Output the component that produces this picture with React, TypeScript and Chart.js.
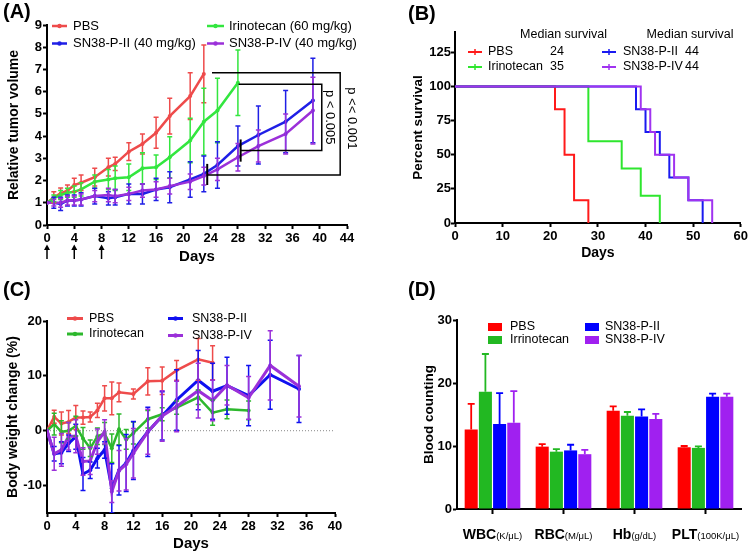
import React, { useEffect, useRef } from "react";
import { Chart, registerables } from "chart.js";

Chart.register(...registerables);

const FONT = '"Liberation Sans", Arial, Helvetica, sans-serif';

// ---------------- Panel A : relative tumor volume ----------------
const namesA = ["PBS", "Irinotecan (60 mg/kg)", "SN38-P-II (40 mg/kg)", "SN38-P-IV (40 mg/kg)"];
const daysA = [0, 1, 2, 3, 4, 5, 7, 9, 10, 12, 14, 16, 18, 21, 23, 25, 28, 31, 35, 39];
const pbsA = [1.0, 1.25, 1.42, 1.55, 1.8, 1.9, 2.15, 2.6, 2.75, 3.3, 3.65, 4.15, 4.9, 5.8, 6.8];
const pbsAErr = [0, 0.25, 0.25, 0.25, 0.3, 0.35, 0.4, 0.4, 0.3, 0.4, 0.45, 0.7, 0.8, 1.05, 1.3];
const iriA = [1.0, 1.2, 1.35, 1.45, 1.5, 1.6, 1.95, 2.05, 2.1, 2.15, 2.55, 2.6, 3.05, 3.8, 4.65, 5.15, 6.4];
const iriAErr = [0, 0.15, 0.2, 0.2, 0.25, 0.3, 0.3, 0.45, 0.55, 0.6, 0.7, 0.55, 0.92, 1.0, 1.5, 1.45, 1.47];
const p2A = [1.0, 1.0, 0.95, 1.1, 1.1, 1.15, 1.3, 1.2, 1.25, 1.4, 1.4, 1.6, 1.7, 2.05, 2.3, 2.7, 3.55, 4.05, 4.65, 5.6];
const p2AErr = [0, 0.25, 0.3, 0.25, 0.25, 0.3, 0.35, 0.3, 0.35, 0.45, 0.45, 0.5, 0.7, 0.8, 0.8, 1.05, 0.9, 1.3, 1.4, 1.9];
const p4A = [1.0, 1.0, 1.0, 1.1, 1.1, 1.15, 1.3, 1.35, 1.3, 1.4, 1.55, 1.6, 1.75, 1.95, 2.2, 2.5, 3.05, 3.55, 4.1, 5.15];
const p4AErr = [0, 0.15, 0.2, 0.2, 0.2, 0.25, 0.25, 0.3, 0.3, 0.3, 0.3, 0.35, 0.35, 0.35, 0.4, 0.5, 0.62, 0.72, 0.9, 1.5];
const xTicksA = [0, 4, 8, 12, 16, 20, 24, 28, 32, 36, 40, 44];
const yTicksA = [0, 1, 2, 3, 4, 5, 6, 7, 8, 9];
const doseDaysA = [0, 4, 8];
const bracketsA = [
  { from: 24.2, fromLow: 23.5, to: 43.0, high: 6.85, low: 2.25, tickLo: 1.8, tickHi: 2.75, text: "p << 0.001", textAt: 4.8 },
  { from: 28.1, fromLow: 28.4, to: 40.3, high: 6.33, low: 3.35, tickLo: 2.85, tickHi: 3.85, text: "p < 0.005", textAt: 4.85 },
];

// ---------------- Panel B : survival ----------------
const namesB = ["PBS", "Irinotecan", "SN38-P-II", "SN38-P-IV"];
const medianB = [24, 35, 44, 44];
const pbsSurvDays = [0, 21, 23, 25, 28];
const pbsSurv = [100, 83.3, 50, 16.7, 0];
const iriSurvDays = [0, 28, 35, 39, 43];
const iriSurv = [100, 60, 40, 20, 0];
const p2SurvDays = [0, 38, 40, 43, 45, 49, 52];
const p2Surv = [100, 83.3, 66.7, 50, 33.3, 16.7, 0];
const p4SurvDays = [0, 39, 41, 42, 46, 49, 54];
const p4Surv = [100, 83.3, 66.7, 50, 33.3, 16.7, 0];
const xTicksB = [0, 10, 20, 30, 40, 50, 60];
const yTicksB = [0, 25, 50, 75, 100, 125];

// ---------------- Panel C : body weight change ----------------
const namesC = ["PBS", "Irinotecan", "SN38-P-II", "SN38-P-IV"];
const pbsDaysC = [0, 1, 2, 3, 4, 5, 6, 7, 8, 9, 10, 12, 14, 16, 18, 21, 23];
const pbsC = [0, 2.55, 1.3, 1.6, 2.4, 2.4, 2.5, 3.7, 5.9, 5.9, 7.0, 6.7, 9.0, 9.1, 11.0, 13.0, 12.4];
const pbsCErr = [0, 1.2, 2.1, 2.1, 2.2, 1.2, 0.9, 1.3, 2.3, 3.0, 1.7, 0.9, 2.5, 2.5, 1.8, 3.8, 3.1];
const iriDaysC = [0, 1, 2, 3, 4, 5, 6, 7, 8, 9, 10, 11, 12, 14, 16, 18, 21, 23, 25, 28];
const iriC = [0, 1.2, -0.2, 0, 0.85, -1.4, -3.2, -1.0, -0.5, -3.2, 0.25, -1.6, -0.4, 2.1, 3.0, 4.2, 6.1, 3.3, 3.9, 3.7];
const iriCErr = [0, 2.0, 2.0, 1.5, 1.8, 2.0, 1.5, 1.5, 2.0, 2.6, 2.8, 1.8, 2.0, 1.6, 1.2, 1.2, 1.3, 2.3, 1.7, 1.7];
const snDaysC = [0, 1, 2, 3, 4, 5, 6, 7, 8, 9, 10, 11, 12, 14, 16, 18, 21, 23, 25, 28, 31, 35];
const p2C = [0, -4.2, -4.0, -2.3, -1.1, -7.9, -7.2, -5.0, -3.5, -10.5, -7.2, -5.9, -3.6, -0.2, 2.7, 5.6, 9.2, 7.2, 8.2, 6.4, 10.2, 7.6];
const p2CErr = [0, 1.3, 2.0, 1.5, 2.3, 3.0, 1.5, 1.8, 1.5, 4.5, 4.5, 5.2, 5.3, 4.5, 4.4, 5.5, 5.4, 5.1, 5.2, 5.5, 6.3, 6.1];
const p4C = [0, -4.2, -3.5, -1.0, -1.0, -5.6, -5.5, -2.0, -0.2, -11.1, -7.3, -6.1, -4.1, -0.2, 2.7, 4.4, 7.3, 5.5, 8.3, 6.0, 11.9, 8.1];
const p4CErr = [0, 3.0, 3.0, 2.5, 3.0, 2.5, 2.5, 2.3, 2.2, 2.0, 3.7, 4.7, 4.5, 4.1, 4.6, 4.6, 5.0, 3.7, 3.6, 3.9, 6.3, 5.6];
const xTicksC = [0, 4, 8, 12, 16, 20, 24, 28, 32, 36, 40];
const yTicksC = [-10, 0, 10, 20];

// ---------------- Panel D : blood counting ----------------
const namesD = ["PBS", "Irrinotecan", "SN38-P-II", "SN38-P-IV"];
const catD = ["WBC", "RBC", "Hb", "PLT"];
const unitD = ["(K/\u03bcL)", "(M/\u03bcL)", "(g/dL)", "(100K/\u03bcL)"];
const pbsD = [12.6, 9.9, 15.6, 9.8];
const pbsDErr = [4.1, 0.4, 0.7, 0.2];
const iriD = [18.6, 9.1, 14.8, 9.7];
const iriDErr = [6.0, 0.4, 0.6, 0.25];
const p2D = [13.5, 9.3, 14.7, 17.8];
const p2DErr = [4.9, 0.9, 1.1, 0.5];
const p4D = [13.7, 8.7, 14.3, 17.8];
const p4DErr = [5.0, 0.7, 0.8, 0.5];
const yTicksD = [0, 10, 20, 30];

// ---------------- helpers ----------------
const colorsA = ["#EE4B4B", "#33E63F", "#1F1FE6", "#9B30D9"];
const colorsB = ["#FF1A1A", "#2EE62E", "#1A1AF0", "#A033F0"];
const colorsC = ["#EE4B4B", "#2DB82D", "#1010F0", "#9B30D9"];
const colorsD = ["#FF0000", "#22B822", "#0000FF", "#A020F0"];

const W = 375;
const H = 277;

const grid = (extra: any = {}) => ({
  display: true,
  drawOnChartArea: false,
  drawTicks: true,
  tickLength: 4,
  tickWidth: 2,
  tickColor: "#000",
  ...extra,
});
const border = { display: true, color: "#000", width: 2 };
const tickFont = (size: number) => ({ family: FONT, size, weight: "bold" as const });
const fixedTicks = (values: number[]) => (scale: any) => {
  scale.ticks = values.map((v) => ({ value: v }));
};
const toXY = (xs: number[], ys: number[]) => ys.map((y, i) => ({ x: xs[i], y }));

const errorBarPlugin = {
  id: "errorBars",
  afterDatasetsDraw(chart: any) {
    const { ctx, chartArea } = chart;
    chart.data.datasets.forEach((ds: any, i: number) => {
      if (!ds.errors) return;
      const meta = chart.getDatasetMeta(i);
      const yScale = chart.scales[meta.yAxisID];
      ctx.save();
      ctx.beginPath();
      ctx.rect(chartArea.left - 10, 0, chartArea.right - chartArea.left + 20, chartArea.bottom);
      ctx.clip();
      ctx.strokeStyle = ds.errorColor || ds.borderColor;
      ctx.lineWidth = ds.errorWidth || 1.5;
      const cap = ds.errorCap || 2.5;
      meta.data.forEach((el: any, j: number) => {
        const e = ds.errors[j];
        if (!e) return;
        const raw = ds.data[j];
        const v = typeof raw === "number" ? raw : raw.y;
        const x = el.x;
        const yHi = yScale.getPixelForValue(v + e);
        const yLo = ds.errorUpOnly ? el.y : yScale.getPixelForValue(v - e);
        ctx.beginPath();
        ctx.moveTo(x, yLo);
        ctx.lineTo(x, yHi);
        ctx.moveTo(x - cap, yHi);
        ctx.lineTo(x + cap, yHi);
        if (!ds.errorUpOnly) {
          ctx.moveTo(x - cap, yLo);
          ctx.lineTo(x + cap, yLo);
        }
        ctx.stroke();
      });
      ctx.restore();
    });
  },
};
Chart.register(errorBarPlugin);

function panelLabel(ctx: CanvasRenderingContext2D, text: string, x: number, y: number) {
  ctx.save();
  ctx.fillStyle = "#000";
  ctx.font = `bold 20px ${FONT}`;
  ctx.textBaseline = "middle";
  ctx.textAlign = "left";
  ctx.fillText(text, x, y);
  ctx.restore();
}

type LegendPos = { x: number; y: number; w: number; tx: number };
function drawLegend(
  chart: any,
  pos: LegendPos[],
  fontSize: number,
  kind: "line" | "step" | "box",
  lineWidth = 2.5
) {
  const ctx: CanvasRenderingContext2D = chart.ctx;
  ctx.save();
  ctx.font = `${fontSize}px ${FONT}`;
  ctx.textBaseline = "middle";
  ctx.textAlign = "left";
  chart.data.datasets.forEach((ds: any, i: number) => {
    const p = pos[i];
    if (!p) return;
    const color = ds.legendColor || ds.borderColor || ds.backgroundColor;
    ctx.fillStyle = color;
    ctx.strokeStyle = color;
    if (kind === "box") {
      ctx.fillRect(p.x, p.y - 4, p.w, 8);
    } else {
      ctx.lineWidth = lineWidth;
      ctx.beginPath();
      ctx.moveTo(p.x, p.y);
      ctx.lineTo(p.x + p.w, p.y);
      ctx.stroke();
      if (kind === "step") {
        ctx.lineWidth = 1.5;
        ctx.beginPath();
        ctx.moveTo(p.x + p.w / 2, p.y - 3);
        ctx.lineTo(p.x + p.w / 2, p.y + 3);
        ctx.stroke();
      } else {
        ctx.beginPath();
        ctx.arc(p.x + p.w / 2, p.y, 2.2, 0, Math.PI * 2);
        ctx.fill();
      }
    }
    ctx.fillStyle = "#000";
    ctx.fillText(ds.label, p.tx, p.y);
  });
  ctx.restore();
}

function useChart(ref: React.RefObject<HTMLCanvasElement>, make: () => any) {
  useEffect(() => {
    if (!ref.current) return;
    const chart = new Chart(ref.current, make());
    return () => chart.destroy();
  }, []);
}

function lineDS(label: string, xs: number[], ys: number[], errs: number[], color: string, order: number, width: number) {
  return {
    label,
    data: toXY(xs, ys),
    errors: errs,
    borderColor: color,
    backgroundColor: color,
    borderWidth: width,
    pointRadius: 2,
    pointBorderWidth: 0,
    pointBackgroundColor: color,
    tension: 0,
    order,
  };
}

// ---------------- Panel A ----------------
function PanelA() {
  const ref = useRef<HTMLCanvasElement>(null);
  useChart(ref, () => ({
    type: "line",
    data: {
      datasets: [
        lineDS(namesA[0], daysA, pbsA, pbsAErr, colorsA[0], 3, 2.5),
        lineDS(namesA[1], daysA, iriA, iriAErr, colorsA[1], 2, 2.5),
        lineDS(namesA[2], daysA, p2A, p2AErr, colorsA[2], 1, 2.5),
        lineDS(namesA[3], daysA, p4A, p4AErr, colorsA[3], 0, 2.5),
      ],
    },
    options: {
      responsive: false,
      animation: false,
      devicePixelRatio: 1,
      layout: { padding: { left: 0, right: 28, top: 25, bottom: 0 } },
      plugins: { legend: { display: false }, tooltip: { enabled: false } },
      scales: {
        x: {
          type: "linear",
          min: 0,
          max: 44,
          afterBuildTicks: fixedTicks(xTicksA),
          afterFit: (s: any) => {
            s.height = 52;
          },
          grid: grid(),
          border,
          ticks: { color: "#000", padding: 2, font: tickFont(13), maxRotation: 0 },
          title: { display: true, text: "Days", color: "#000", font: { family: FONT, size: 15, weight: "bold" }, padding: { top: 0, bottom: 11 } },
        },
        y: {
          type: "linear",
          min: 0,
          max: 9,
          afterBuildTicks: fixedTicks(yTicksA),
          afterFit: (s: any) => {
            s.width = 47;
          },
          grid: grid(),
          border,
          ticks: { color: "#000", padding: 1, font: tickFont(13) },
          title: { display: true, text: "Relative tumor volume", color: "#000", font: { family: FONT, size: 14, weight: "bold" }, padding: { top: 6, bottom: 0 } },
        },
      },
    },
    plugins: [
      {
        id: "overlayA",
        afterDraw(chart: any) {
          const ctx: CanvasRenderingContext2D = chart.ctx;
          const X = (v: number) => chart.scales.x.getPixelForValue(v);
          const Y = (v: number) => chart.scales.y.getPixelForValue(v);
          // brackets
          ctx.save();
          ctx.strokeStyle = "#000";
          bracketsA.forEach((b, k) => {
            ctx.lineWidth = 1.5;
            ctx.beginPath();
            ctx.moveTo(X(b.from), Y(b.high));
            ctx.lineTo(X(b.to), Y(b.high));
            ctx.lineTo(X(b.to), Y(b.low));
            ctx.lineTo(X(b.fromLow), Y(b.low));
            ctx.stroke();
            ctx.lineWidth = 2;
            ctx.beginPath();
            ctx.moveTo(X(b.fromLow), Y(b.tickLo));
            ctx.lineTo(X(b.fromLow), Y(b.tickHi));
            ctx.stroke();
            ctx.save();
            ctx.translate(X(b.to) + (k === 0 ? 11 : 8), Y(b.textAt));
            ctx.rotate(Math.PI / 2);
            ctx.fillStyle = "#000";
            ctx.font = `13px ${FONT}`;
            ctx.textAlign = "center";
            ctx.textBaseline = "middle";
            ctx.fillText(b.text, 0, 0);
            ctx.restore();
          });
          // dosing arrows
          ctx.fillStyle = "#000";
          ctx.lineWidth = 1.5;
          doseDaysA.forEach((d) => {
            const x = X(d);
            ctx.beginPath();
            ctx.moveTo(x, 259);
            ctx.lineTo(x, 248);
            ctx.stroke();
            ctx.beginPath();
            ctx.moveTo(x, 244.5);
            ctx.lineTo(x - 3, 250);
            ctx.lineTo(x + 3, 250);
            ctx.closePath();
            ctx.fill();
          });
          ctx.restore();
          drawLegend(
            chart,
            [
              { x: 52, y: 26, w: 15, tx: 73 },
              { x: 207, y: 26, w: 17, tx: 229 },
              { x: 52, y: 43.5, w: 15, tx: 73 },
              { x: 207, y: 43.5, w: 17, tx: 229 },
            ],
            13,
            "line"
          );
          panelLabel(ctx, "(A)", 3, 12);
        },
      },
    ],
  }));
  return <canvas ref={ref} width={W} height={H} style={{ position: "absolute", left: 0, top: 0, width: W, height: H }} />;
}

// ---------------- Panel B ----------------
function survDS(label: string, xs: number[], ys: number[], color: string, order: number) {
  return {
    label,
    data: toXY(xs, ys),
    borderColor: color,
    backgroundColor: color,
    borderWidth: 2,
    pointRadius: 0,
    stepped: "before",
    order,
  };
}

function PanelB() {
  const ref = useRef<HTMLCanvasElement>(null);
  useChart(ref, () => ({
    type: "line",
    data: {
      datasets: [
        survDS(namesB[0], pbsSurvDays, pbsSurv, colorsB[0], 3),
        survDS(namesB[1], iriSurvDays, iriSurv, colorsB[1], 2),
        survDS(namesB[2], p2SurvDays, p2Surv, colorsB[2], 1),
        survDS(namesB[3], p4SurvDays, p4Surv, colorsB[3], 0),
      ],
    },
    options: {
      responsive: false,
      animation: false,
      devicePixelRatio: 1,
      layout: { padding: { left: 0, right: 8, top: 32, bottom: 0 } },
      plugins: { legend: { display: false }, tooltip: { enabled: false } },
      scales: {
        x: {
          type: "linear",
          min: 0,
          max: 60,
          afterBuildTicks: fixedTicks(xTicksB),
          afterFit: (s: any) => {
            s.height = 54;
          },
          grid: grid(),
          border,
          ticks: { color: "#000", padding: 2, font: tickFont(13), maxRotation: 0 },
          title: { display: true, text: "Days", color: "#000", font: { family: FONT, size: 14, weight: "bold" }, padding: { top: 0, bottom: 15 } },
        },
        y: {
          type: "linear",
          min: 0,
          max: 140,
          afterBuildTicks: fixedTicks(yTicksB),
          afterFit: (s: any) => {
            s.width = 80;
          },
          grid: grid(),
          border,
          ticks: { color: "#000", padding: 0, font: tickFont(13) },
          title: { display: true, text: "Percent survival", color: "#000", font: { family: FONT, size: 13.5, weight: "bold" }, padding: { top: 35, bottom: 0 } },
        },
      },
    },
    plugins: [
      {
        id: "overlayB",
        afterDraw(chart: any) {
          const ctx: CanvasRenderingContext2D = chart.ctx;
          const pos = [
            { x: 93, y: 52, w: 14, tx: 113 },
            { x: 93, y: 67, w: 14, tx: 113 },
            { x: 227, y: 52, w: 14, tx: 248 },
            { x: 227, y: 67, w: 14, tx: 248 },
          ];
          drawLegend(chart, pos, 12.5, "step", 2);
          ctx.save();
          ctx.fillStyle = "#000";
          ctx.font = `12.5px ${FONT}`;
          ctx.textBaseline = "middle";
          ctx.textAlign = "center";
          ctx.fillText("Median survival", 188.5, 35);
          ctx.fillText("Median survival", 315, 35);
          ctx.textAlign = "left";
          const medX = [175, 175, 310, 310];
          medianB.forEach((m, i) => ctx.fillText(String(m), medX[i], pos[i].y));
          ctx.restore();
          panelLabel(ctx, "(B)", 33, 14);
        },
      },
    ],
  }));
  return <canvas ref={ref} width={W} height={H} style={{ position: "absolute", left: 375, top: 0, width: W, height: H }} />;
}

// ---------------- Panel C ----------------
function PanelC() {
  const ref = useRef<HTMLCanvasElement>(null);
  useChart(ref, () => ({
    type: "line",
    data: {
      datasets: [
        lineDS(namesC[0], pbsDaysC, pbsC, pbsCErr, colorsC[0], 3, 2.5),
        lineDS(namesC[1], iriDaysC, iriC, iriCErr, colorsC[1], 2, 2.5),
        lineDS(namesC[2], snDaysC, p2C, p2CErr, colorsC[2], 1, 3),
        lineDS(namesC[3], snDaysC, p4C, p4CErr, colorsC[3], 0, 3),
      ],
    },
    options: {
      responsive: false,
      animation: false,
      devicePixelRatio: 1,
      layout: { padding: { left: 0, right: 40, top: 44, bottom: 0 } },
      plugins: { legend: { display: false }, tooltip: { enabled: false } },
      scales: {
        x: {
          type: "linear",
          min: 0,
          max: 40,
          afterBuildTicks: fixedTicks(xTicksC),
          afterFit: (s: any) => {
            s.height = 41;
          },
          grid: grid(),
          border,
          ticks: { color: "#000", padding: 2, font: tickFont(13), maxRotation: 0 },
          title: { display: true, text: "Days", color: "#000", font: { family: FONT, size: 15, weight: "bold" }, padding: { top: 0, bottom: 1 } },
        },
        y: {
          type: "linear",
          min: -15,
          max: 20,
          afterBuildTicks: fixedTicks(yTicksC),
          afterFit: (s: any) => {
            s.width = 47;
          },
          grid: grid(),
          border,
          ticks: { color: "#000", padding: 1, font: tickFont(13) },
          title: { display: true, text: "Body weight change (%)", color: "#000", font: { family: FONT, size: 14, weight: "bold" }, padding: { top: 5, bottom: 0 } },
        },
      },
    },
    plugins: [
      {
        id: "zeroLineC",
        beforeDatasetsDraw(chart: any) {
          const ctx: CanvasRenderingContext2D = chart.ctx;
          const y = chart.scales.y.getPixelForValue(0);
          ctx.save();
          ctx.strokeStyle = "#888";
          ctx.lineWidth = 1;
          ctx.setLineDash([1, 2]);
          ctx.beginPath();
          ctx.moveTo(chart.chartArea.left, y);
          ctx.lineTo(chart.chartArea.right, y);
          ctx.stroke();
          ctx.restore();
        },
      },
      {
        id: "overlayC",
        afterDraw(chart: any) {
          drawLegend(
            chart,
            [
              { x: 67, y: 41.5, w: 16, tx: 89 },
              { x: 67, y: 57, w: 16, tx: 89 },
              { x: 168, y: 41.5, w: 15, tx: 192 },
              { x: 168, y: 58.5, w: 15, tx: 192 },
            ],
            12.5,
            "line",
            3
          );
          panelLabel(chart.ctx, "(C)", 3, 13);
        },
      },
    ],
  }));
  return <canvas ref={ref} width={W} height={H} style={{ position: "absolute", left: 0, top: 277, width: W, height: H }} />;
}

// ---------------- Panel D ----------------
function barDS(label: string, vals: number[], errs: number[], color: string) {
  return {
    label,
    data: vals,
    errors: errs,
    errorUpOnly: true,
    errorCap: 3.5,
    errorWidth: 1.8,
    errorColor: color,
    legendColor: color,
    backgroundColor: color,
    borderWidth: 0,
    barPercentage: 0.92,
    categoryPercentage: 0.8,
  };
}

function PanelD() {
  const ref = useRef<HTMLCanvasElement>(null);
  useChart(ref, () => ({
    type: "bar",
    data: {
      labels: catD,
      datasets: [
        barDS(namesD[0], pbsD, pbsDErr, colorsD[0]),
        barDS(namesD[1], iriD, iriDErr, colorsD[1]),
        barDS(namesD[2], p2D, p2DErr, colorsD[2]),
        barDS(namesD[3], p4D, p4DErr, colorsD[3]),
      ],
    },
    options: {
      responsive: false,
      animation: false,
      devicePixelRatio: 1,
      layout: { padding: { left: 0, right: 9, top: 43, bottom: 0 } },
      plugins: { legend: { display: false }, tooltip: { enabled: false } },
      scales: {
        x: {
          type: "category",
          afterFit: (s: any) => {
            s.height = 45;
          },
          grid: grid({ offset: false, tickLength: 5 }),
          border,
          ticks: { display: false },
        },
        y: {
          type: "linear",
          min: 0,
          max: 30,
          afterBuildTicks: fixedTicks(yTicksD),
          afterFit: (s: any) => {
            s.width = 82;
          },
          grid: grid(),
          border,
          ticks: { color: "#000", padding: 1, font: tickFont(13) },
          title: { display: true, text: "Blood counting", color: "#000", font: { family: FONT, size: 13.5, weight: "bold" }, padding: { top: 46, bottom: 0 } },
        },
      },
    },
    plugins: [
      {
        id: "overlayD",
        afterDraw(chart: any) {
          const ctx: CanvasRenderingContext2D = chart.ctx;
          const xs = chart.scales.x;
          ctx.save();
          ctx.fillStyle = "#000";
          ctx.textBaseline = "alphabetic";
          ctx.textAlign = "left";
          const boldFont = `bold 14px ${FONT}`;
          const unitFont = `9.5px ${FONT}`;
          catD.forEach((c, i) => {
            ctx.font = boldFont;
            const w1 = ctx.measureText(c).width;
            ctx.font = unitFont;
            const w2 = ctx.measureText(unitD[i]).width;
            const cx = xs.getPixelForTick(i);
            const x0 = cx - (w1 + w2) / 2;
            ctx.font = boldFont;
            ctx.fillText(c, x0, 262);
            ctx.font = unitFont;
            ctx.fillText(unitD[i], x0 + w1, 262);
          });
          ctx.restore();
          drawLegend(
            chart,
            [
              { x: 113, y: 50, w: 14, tx: 135 },
              { x: 113, y: 63, w: 14, tx: 135 },
              { x: 210, y: 50, w: 14, tx: 230 },
              { x: 210, y: 63, w: 14, tx: 230 },
            ],
            12.5,
            "box"
          );
          panelLabel(ctx, "(D)", 33, 13);
        },
      },
    ],
  }));
  return <canvas ref={ref} width={W} height={H} style={{ position: "absolute", left: 375, top: 277, width: W, height: H }} />;
}

export default function App() {
  return (
    <div style={{ position: "fixed", left: 0, top: 0, width: 750, height: 554, background: "#fff", overflow: "hidden" }}>
      <PanelA />
      <PanelB />
      <PanelC />
      <PanelD />
    </div>
  );
}
